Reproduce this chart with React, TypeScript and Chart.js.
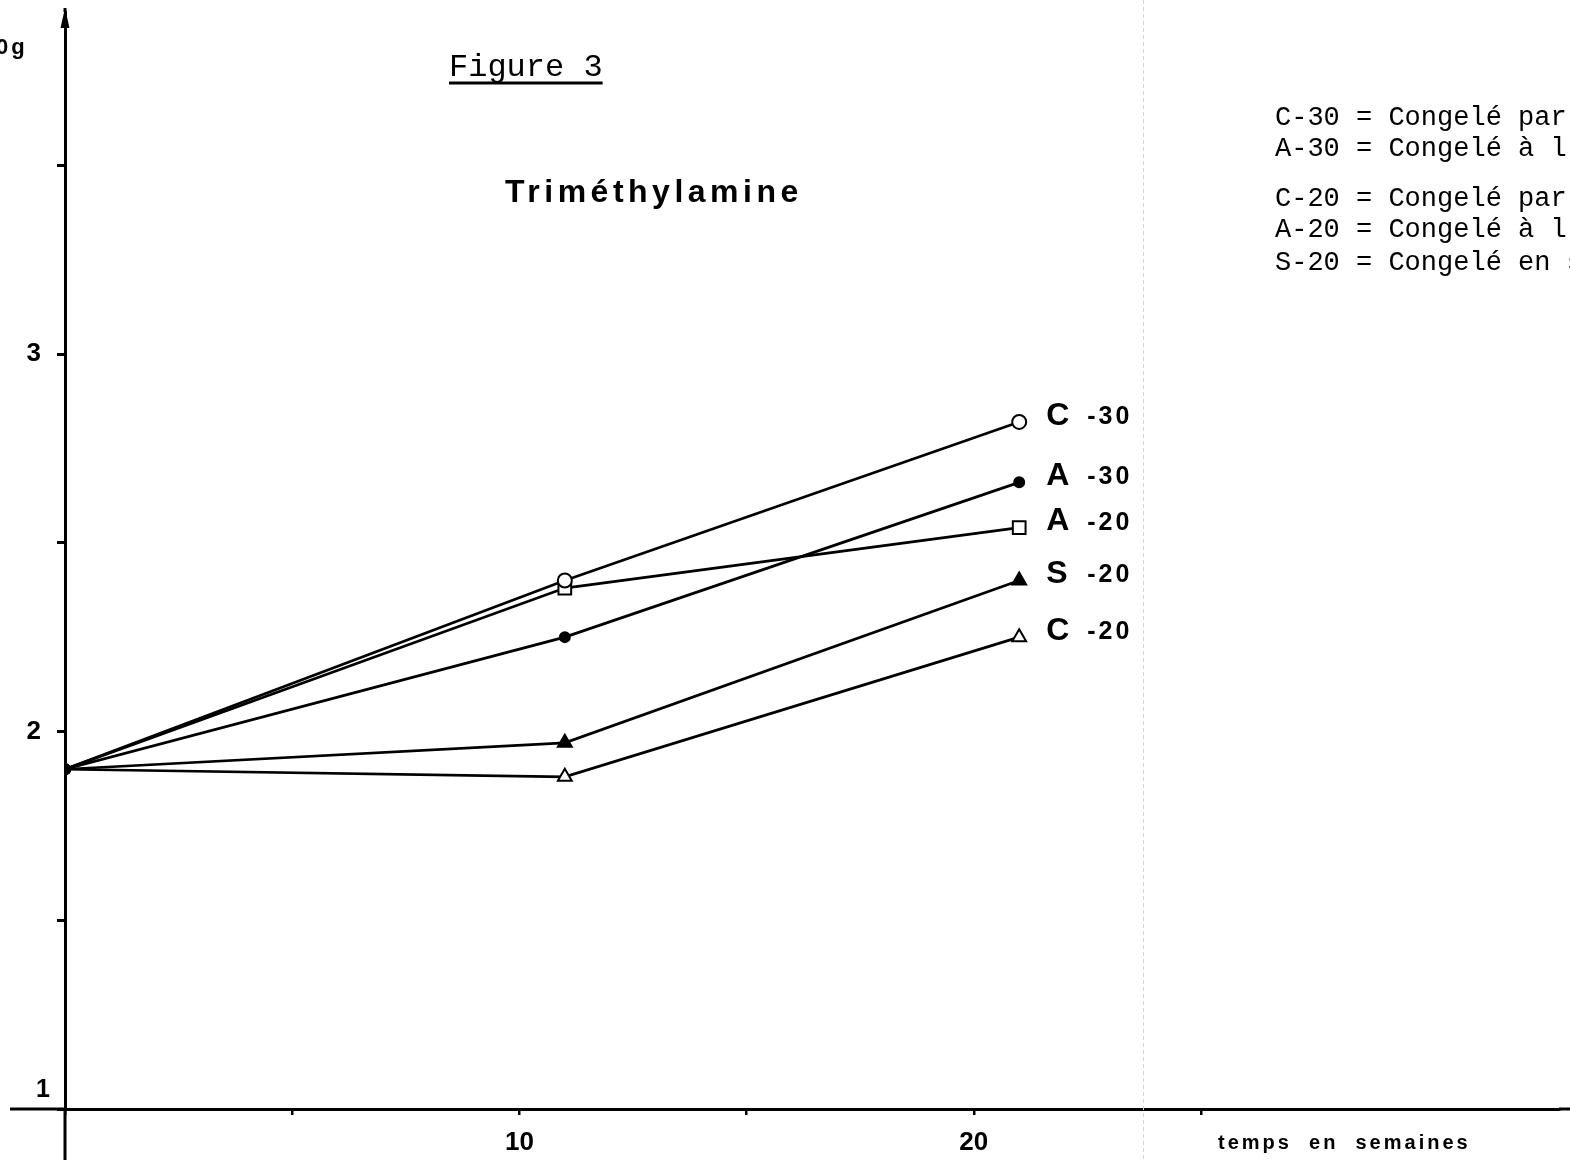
import React, { useEffect, useRef } from 'react';
import { Chart, registerables } from 'chart.js';

Chart.register(...registerables);

// ---- data ----
const weeks = [0, 11, 21];
const seriesNames = ['C -30', 'A -30', 'A -20', 'S -20', 'C -20'];
const c30 = [1.9, 2.4, 2.82];
const a30 = [1.9, 2.25, 2.66];
const a20 = [1.9, 2.38, 2.54];
const s20 = [1.9, 1.97, 2.4];
const c20 = [1.9, 1.88, 2.25];
const seriesValues = [c30, a30, a20, s20, c20];
const markerStyles = ['circle', 'circle', 'rect', 'triangle', 'triangle'];
const markerFilled = [false, true, false, true, false];
const markerSizes = [7, 5, 9, 8, 8];

const xTickValues = [0, 5, 10, 15, 20, 25];
const xTickLabels = ['', '', '10', '', '20', ''];
const yTickValues = [1, 1.5, 2, 2.5, 3, 3.5];
const yTickLabels = ['1', '', '2', '', '3', ''];

const figureTitle = 'Figure 3';
const chartTitle = 'Triméthylamine';
const xAxisTitle = 'temps  en  semaines';
const yAxisUnit = '0g';
const legendLines = [
  'C-30 = Congelé par',
  'A-30 = Congelé à l',
  'C-20 = Congelé par',
  'A-20 = Congelé à l',
  'S-20 = Congelé en s',
];

const SANS = '"Liberation Sans", Arial, sans-serif';
const MONO = '"Liberation Mono", "Courier New", monospace';

const decor = {
  id: 'decor',
  beforeDatasetsDraw(chart: any) {
    const ctx = chart.ctx;
    ctx.save();
    ctx.strokeStyle = '#d4d4d4';
    ctx.lineWidth = 1;
    ctx.setLineDash([4, 3]);
    ctx.beginPath();
    ctx.moveTo(1143.5, 0);
    ctx.lineTo(1143.5, chart.height);
    ctx.stroke();
    ctx.restore();
  },
  afterDraw(chart: any) {
    const ctx = chart.ctx;
    const xs = chart.scales.x;
    const ys = chart.scales.y;
    const x0 = xs.getPixelForValue(0);
    const y1 = ys.getPixelForValue(1);
    ctx.save();
    // axis extensions
    ctx.strokeStyle = '#000';
    ctx.lineWidth = 3;
    ctx.beginPath();
    ctx.moveTo(10, y1);
    ctx.lineTo(x0, y1);
    ctx.moveTo(xs.right, y1);
    ctx.lineTo(chart.width, y1);
    ctx.moveTo(x0, y1);
    ctx.lineTo(x0, chart.height);
    ctx.moveTo(x0, chart.chartArea.top);
    ctx.lineTo(x0, 8);
    ctx.stroke();
    // arrow head
    ctx.fillStyle = '#000';
    ctx.beginPath();
    ctx.moveTo(x0, 8);
    ctx.lineTo(x0 - 4.5, 28);
    ctx.lineTo(x0 + 4.5, 28);
    ctx.closePath();
    ctx.fill();

    // y label "1" (raised above the x axis)
    ctx.font = `bold 25px ${SANS}`;
    ctx.textAlign = 'center';
    ctx.textBaseline = 'middle';
    ctx.fillText(yTickLabels[0], 43, y1 - 19);

    // unit fragment
    ctx.font = `bold 22px ${SANS}`;
    ctx.textAlign = 'left';
    ctx.letterSpacing = '3px';
    ctx.fillText(yAxisUnit, -4, 48);
    ctx.letterSpacing = '0px';

    // series labels
    chart.data.datasets.forEach((ds: any, i: number) => {
      const meta = chart.getDatasetMeta(i);
      const p = meta.data[meta.data.length - 1];
      const [letter, num] = seriesNames[i].split(' ');
      ctx.textAlign = 'left';
      ctx.textBaseline = 'middle';
      ctx.font = `bold 32px ${SANS}`;
      ctx.fillText(letter, p.x + 27, p.y - 6);
      ctx.font = `bold 25px ${SANS}`;
      ctx.letterSpacing = '3px';
      ctx.fillText(num, p.x + 68, p.y - 5);
      ctx.letterSpacing = '0px';
    });

    // Figure title, underlined
    ctx.font = `32px ${MONO}`;
    ctx.textBaseline = 'alphabetic';
    ctx.textAlign = 'left';
    ctx.fillText(figureTitle, 449, 76);
    const w = ctx.measureText(figureTitle).width;
    ctx.lineWidth = 3;
    ctx.beginPath();
    ctx.moveTo(449, 83);
    ctx.lineTo(449 + w, 83);
    ctx.stroke();

    // chart title
    ctx.font = `bold 32px ${SANS}`;
    ctx.letterSpacing = '4.5px';
    ctx.textBaseline = 'middle';
    ctx.fillText(chartTitle, 505, 193);

    // x axis title
    ctx.font = `bold 20px ${SANS}`;
    ctx.letterSpacing = '3px';
    ctx.fillText(xAxisTitle, 1218, 1143);
    ctx.letterSpacing = '0px';

    // legend text
    ctx.font = `27px ${MONO}`;
    ctx.textBaseline = 'alphabetic';
    const baselines = [125, 156, 206, 237, 270];
    legendLines.forEach((t, i) => ctx.fillText(t, 1275, baselines[i]));
    ctx.restore();
  },
};

export default function App() {
  const ref = useRef<HTMLCanvasElement>(null);
  useEffect(() => {
    document.body.style.margin = '0';
    const canvas = ref.current!;
    const datasets = seriesValues.map((vals, i) => ({
      label: seriesNames[i],
      data: vals.map((v, j) => ({ x: weeks[j], y: v })),
      borderColor: '#000',
      borderWidth: 2.7,
      tension: 0,
      pointStyle: vals.map((_, j) => (j === 0 ? 'circle' : markerStyles[i])),
      pointRadius: vals.map((_, j) => (j === 0 ? 5 : markerSizes[i])),
      pointBackgroundColor: vals.map((_, j) => (j === 0 || markerFilled[i] ? '#000' : '#fff')),
      pointBorderColor: '#000',
      pointBorderWidth: 2,
    }));
    const chart = new Chart(canvas, {
      type: 'line',
      data: { datasets },
      plugins: [decor],
      options: {
        animation: false,
        responsive: false,
        layout: { padding: { top: 12, left: 0, right: 0, bottom: 0 } },
        plugins: { legend: { display: false }, tooltip: { enabled: false }, title: { display: false } },
        scales: {
          x: {
            type: 'linear',
            min: 0,
            max: 32.88,
            afterFit: (s: any) => {
              s.height = 51;
              s.paddingLeft = 0;
              s.paddingRight = 0;
            },
            afterBuildTicks: (s: any) => { s.ticks = xTickValues.map((v) => ({ value: v })); },
            border: { display: true, color: '#000', width: 3 },
            grid: { drawOnChartArea: false, drawTicks: true, tickLength: 6, color: '#000', lineWidth: 2.5 },
            ticks: {
              autoSkip: false,
              maxRotation: 0,
              padding: 12,
              color: '#000',
              font: { family: SANS, size: 26, weight: 'bold' },
              callback: (v: any) => xTickLabels[xTickValues.indexOf(Number(v))] ?? '',
            },
          },
          y: {
            type: 'linear',
            min: 1,
            max: 3.906,
            afterFit: (s: any) => {
              s.width = 65;
              s.paddingTop = 0;
              s.paddingBottom = 0;
            },
            afterBuildTicks: (s: any) => { s.ticks = yTickValues.map((v) => ({ value: v })); },
            border: { display: true, color: '#000', width: 3 },
            grid: { drawOnChartArea: false, drawTicks: true, tickLength: 8, color: '#000', lineWidth: 3 },
            ticks: {
              autoSkip: false,
              padding: 16,
              color: '#000',
              font: { family: SANS, size: 26, weight: 'bold' },
              callback: (v: any) => {
                const i = yTickValues.indexOf(Number(v));
                return i <= 0 ? '' : yTickLabels[i];
              },
            },
          },
        },
      } as any,
    });
    return () => chart.destroy();
  }, []);
  return (
    <div style={{ width: 1570, height: 1160, background: '#fff' }}>
      <canvas ref={ref} width={1570} height={1160} style={{ display: 'block', width: 1570, height: 1160 }} />
    </div>
  );
}
